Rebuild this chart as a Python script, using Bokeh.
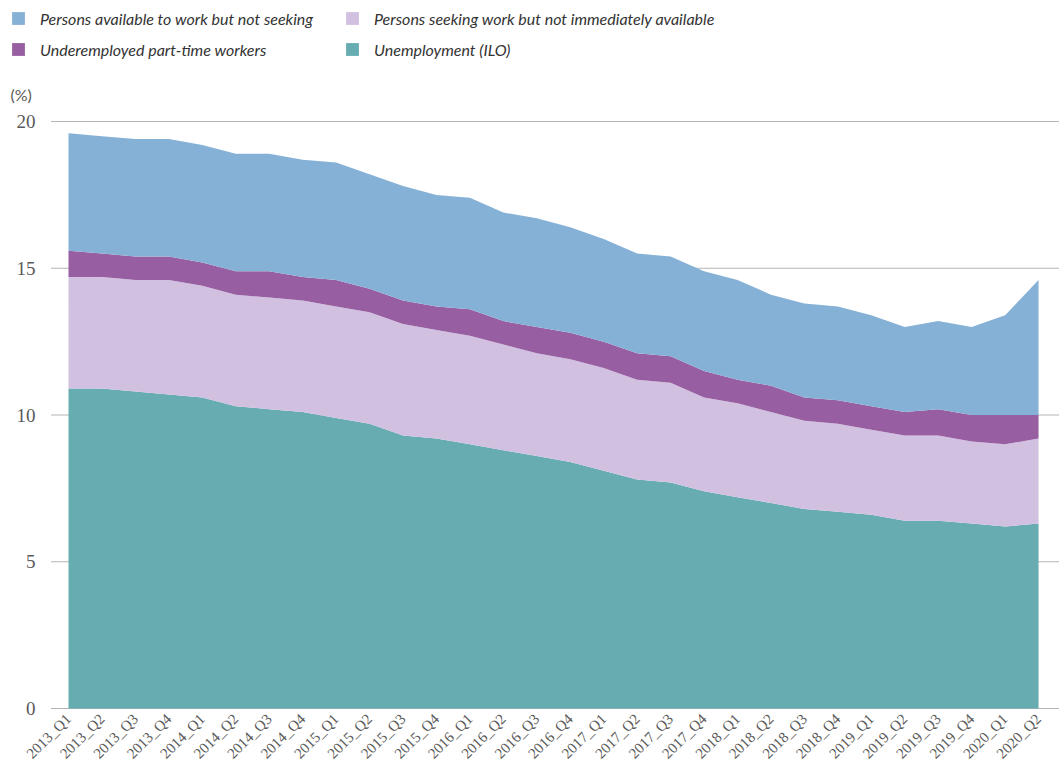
from bokeh.plotting import figure
from bokeh.models import (ColumnDataSource, Range1d, Legend, LegendItem, Label, LabelSet)
from bokeh.embed import file_html
from bokeh.resources import INLINE

quarters = ["2013_Q1", "2013_Q2", "2013_Q3", "2013_Q4", "2014_Q1", "2014_Q2", "2014_Q3", "2014_Q4",
            "2015_Q1", "2015_Q2", "2015_Q3", "2015_Q4", "2016_Q1", "2016_Q2", "2016_Q3", "2016_Q4",
            "2017_Q1", "2017_Q2", "2017_Q3", "2017_Q4", "2018_Q1", "2018_Q2", "2018_Q3", "2018_Q4",
            "2019_Q1", "2019_Q2", "2019_Q3", "2019_Q4", "2020_Q1", "2020_Q2"]

unemployment = [10.9, 10.9, 10.8, 10.7, 10.6, 10.3, 10.2, 10.1, 9.9, 9.7, 9.3, 9.2, 9.0, 8.8, 8.6,
                8.4, 8.1, 7.8, 7.7, 7.4, 7.2, 7.0, 6.8, 6.7, 6.6, 6.4, 6.4, 6.3, 6.2, 6.3]
seeking_not_available = [3.8, 3.8, 3.8, 3.9, 3.8, 3.8, 3.8, 3.8, 3.8, 3.8, 3.8, 3.7, 3.7, 3.6, 3.5,
                         3.5, 3.5, 3.4, 3.4, 3.2, 3.2, 3.1, 3.0, 3.0, 2.9, 2.9, 2.9, 2.8, 2.8, 2.9]
underemployed = [0.9, 0.8, 0.8, 0.8, 0.8, 0.8, 0.9, 0.8, 0.9, 0.8, 0.8, 0.8, 0.9, 0.8, 0.9,
                 0.9, 0.9, 0.9, 0.9, 0.9, 0.8, 0.9, 0.8, 0.8, 0.8, 0.8, 0.9, 0.9, 1.0, 0.8]
available_not_seeking = [4.0, 4.0, 4.0, 4.0, 4.0, 4.0, 4.0, 4.0, 4.0, 3.9, 3.9, 3.8, 3.8, 3.7, 3.7,
                         3.6, 3.5, 3.4, 3.4, 3.4, 3.4, 3.1, 3.2, 3.2, 3.1, 2.9, 3.0, 3.0, 3.4, 4.6]
y_ticks = [0, 5, 10, 15, 20]
y_tick_labels = ["0", "5", "10", "15", "20"]

series_names = ["unemployment", "seeking", "underemployed", "available"]
labels = ["Unemployment (ILO)", "Persons seeking work but not immediately available",
          "Underemployed part-time workers", "Persons available to work but not seeking"]
colors = ["#66acb0", "#d2c0e1", "#975fa1", "#86b1d6"]

W, H = 1059, 770
# plotting region (pixels on the canvas)
px_left, px_zero, px_per_x, px_per_y = 51, 708, 33.45, 29.35
first_x_px = 68

x_start = -first_x_px / px_per_x
x_end = x_start + W / px_per_x
y_start = -(H - px_zero) / px_per_y
y_end = px_zero / px_per_y
grid_x0 = x_start + px_left / px_per_x

xs = list(range(len(quarters)))
source = ColumnDataSource(dict(
    x=xs,
    unemployment=unemployment,
    seeking=seeking_not_available,
    underemployed=underemployed,
    available=available_not_seeking,
))

p = figure(width=W, height=H, output_backend="svg", toolbar_location=None,
           x_range=Range1d(x_start, x_end), y_range=Range1d(y_start, y_end),
           min_border_left=0, min_border_right=0, min_border_top=0, min_border_bottom=0)
p.outline_line_color = None
p.background_fill_color = "white"
p.xaxis.visible = False
p.yaxis.visible = False
p.xgrid.visible = False
p.ygrid.visible = False

# dotted horizontal gridlines
grid_src = ColumnDataSource(dict(y=y_ticks, x0=[grid_x0] * len(y_ticks), x1=[x_end] * len(y_ticks)))
p.segment(x0="x0", x1="x1", y0="y", y1="y", source=grid_src, line_color="#6a6a6a",
          line_width=1, line_dash="1 1", level="underlay")

renderers = p.varea_stack(stackers=series_names, x="x", color=colors, source=source)

# y tick labels
ytl_src = ColumnDataSource(dict(y=y_ticks, text=y_tick_labels))
p.add_layout(LabelSet(x=35, x_units="screen", y="y", text="text", source=ytl_src,
                      text_align="right", text_baseline="middle",
                      text_font="Lato", text_font_size="19px", text_color="#5a5a5a"))

# x tick labels (rotated)
xtl_src = ColumnDataSource(dict(x=xs, text=quarters))
p.add_layout(LabelSet(x="x", y=H - 716, y_units="screen", text="text", source=xtl_src,
                      angle=0.785398, text_align="right", text_baseline="middle",
                      text_font="Lato", text_font_size="15px", text_color="#5a5a5a"))

# unit label
p.add_layout(Label(x=10, y=H - 94, x_units="screen", y_units="screen", text="(%)",
                   text_font="Lato", text_font_size="16px", text_color="#5a5a5a",
                   text_baseline="middle"))

# legend: rows [available, seeking], [underemployed, unemployment]
order = [3, 1, 2, 0]
items = [LegendItem(label=labels[i], renderers=[renderers[i]]) for i in order]
legend = Legend(items=items, location=(10, H - 8 - 51), orientation="horizontal", ncols=2,
                glyph_width=16, glyph_height=16, label_standoff=14, label_width=293,
                label_height=20, spacing=11, padding=0, margin=0,
                label_text_font="Lato", label_text_font_style="italic",
                label_text_font_size="16px", label_text_color="#333333",
                background_fill_alpha=0, border_line_color=None)
p.add_layout(legend, "center")

open("out.html", "w").write(file_html(p, INLINE))
